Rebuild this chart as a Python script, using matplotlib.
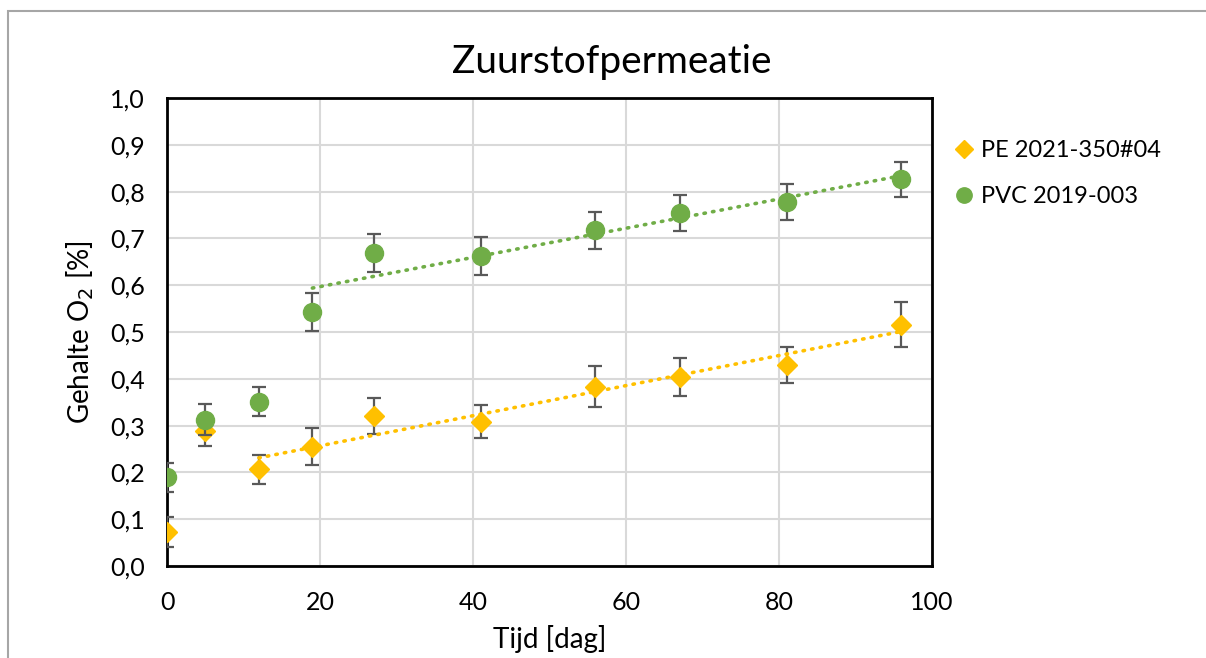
import numpy as np
import matplotlib
matplotlib.use("Agg")
import matplotlib.pyplot as plt
from matplotlib.patches import Rectangle

plt.rcParams["font.family"] = ["Lato", "DejaVu Sans"]

# meetdata zuurstofgehalte
pe_label = "PE 2021-350#04"
pe_t = [0, 5, 12, 19, 27, 41, 56, 67, 81, 96]
pe_o2 = [0.073, 0.288, 0.207, 0.255, 0.321, 0.308, 0.383, 0.404, 0.429, 0.516]
pe_err = [0.032, 0.031, 0.031, 0.040, 0.038, 0.035, 0.044, 0.041, 0.038, 0.048]

pvc_label = "PVC 2019-003"
pvc_t = [0, 5, 12, 19, 27, 41, 56, 67, 81, 96]
pvc_o2 = [0.190, 0.313, 0.351, 0.543, 0.669, 0.662, 0.717, 0.754, 0.778, 0.826]
pvc_err = [0.031, 0.033, 0.031, 0.041, 0.041, 0.040, 0.039, 0.038, 0.038, 0.038]

# trendlijnen alleen over het lineaire deel
pe_fit_from = 12
pvc_fit_from = 19

PE_COL = "#FFC000"
PVC_COL = "#70AD47"
ERR_COL = "#595959"

fig = plt.figure(figsize=(12.06, 6.58), dpi=100)
ax = fig.add_axes([0.1385, 0.1398, 0.6343, 0.7113])

# kader rond de grafiek
fig.patches.append(Rectangle((8 / 1206, -0.1), 1.2, 1 - 11 / 658 + 0.1,
                             transform=fig.transFigure, fill=False,
                             edgecolor="#a6a6a6", lw=1.5))


def trend(t, y, start):
    t = np.asarray(t, float)
    y = np.asarray(y, float)
    m = t >= start
    k, b = np.polyfit(t[m], y[m], 1)
    xs = np.array([t[m].min(), t[m].max()])
    return xs, k * xs + b


for t, y, err, start, col, mk, ms, lab, z in [
        (pe_t, pe_o2, pe_err, pe_fit_from, PE_COL, "D", 10.5, pe_label, 3),
        (pvc_t, pvc_o2, pvc_err, pvc_fit_from, PVC_COL, "o", 13, pvc_label, 4)]:
    ax.errorbar(t, y, yerr=err, fmt="none", ecolor=ERR_COL, elinewidth=1.6,
                capsize=5, capthick=1.6, zorder=z)
    ax.plot(t, y, ls="none", marker=mk, ms=ms, color=col, mec=col,
            label=lab, zorder=z + 0.5)
    xs, ys = trend(t, y, start)
    ax.plot(xs, ys, color=col, lw=2.6, ls=(0, (0.4, 2.0)),
            dash_capstyle="round", zorder=z + 0.2)

ax.set_xlim(0, 100)
ax.set_ylim(0, 1.0)
ax.set_xticks(np.arange(0, 101, 20))
ax.set_yticks(np.arange(0, 1.01, 0.1))
ax.set_yticklabels([f"{v:.1f}".replace(".", ",") for v in np.arange(0, 1.01, 0.1)])
ax.tick_params(length=0, labelsize=18)
ax.tick_params(axis="x", pad=18)
ax.tick_params(axis="y", pad=16)
ax.grid(color="#d9d9d9", lw=1.5)
ax.set_axisbelow(True)
for s in ax.spines.values():
    s.set_linewidth(2.0)
    s.set_color("black")

ax.set_xlabel("Tijd [dag]", fontsize=20, labelpad=8)
ax.set_ylabel("Gehalte O$_2$ [%]", fontsize=20, labelpad=10)
fig.text(0.507, 0.906, "Zuurstofpermeatie", fontsize=28, ha="center", va="center")

handles, labels = ax.get_legend_handles_labels()
ax.legend(handles, labels,
          loc="upper left", bbox_to_anchor=(1.005, 0.955), frameon=False,
          fontsize=17, handlelength=0.6, handletextpad=0.4, labelspacing=1.05,
          markerscale=0.85)

fig.savefig("out.png", dpi=100)
